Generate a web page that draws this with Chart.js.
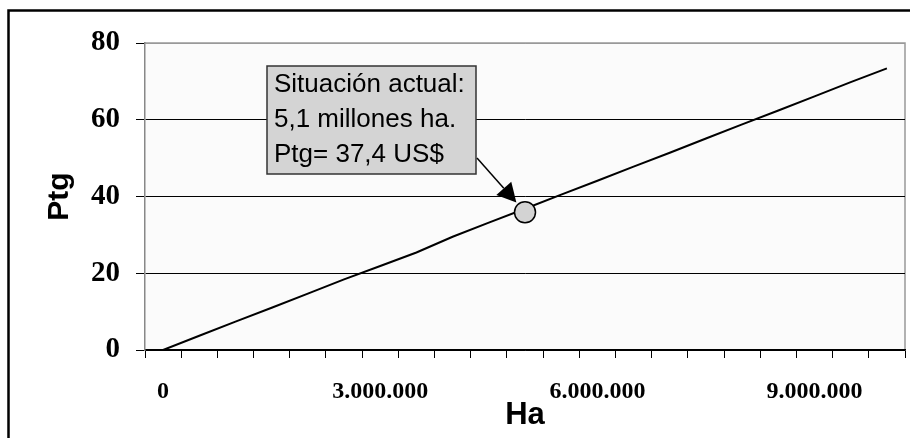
<!DOCTYPE html>
<html>
<head>
<meta charset="utf-8">
<script src="https://cdn.jsdelivr.net/npm/chart.js@4"></script>
<style>
    body { margin: 0; background: #fff; }
    canvas { display: block; }
</style>
</head>
<body>
<canvas id="ptgChart" width="910" height="438"></canvas>
<script>
// Ha (categories) and Ptg values
const haValues = [0, 500000, 1000000, 1500000, 2000000, 2500000, 3000000, 3500000, 4000000, 4500000,
    5000000, 5500000, 6000000, 6500000, 7000000, 7500000, 8000000, 8500000, 9000000, 9500000, 10000000];
const ptgValues = [0, 3.7, 7.4, 11.0, 14.7, 18.4, 21.9, 25.4, 29.5, 33.2,
    36.8, 40.5, 44.1, 47.8, 51.4, 55.1, 58.8, 62.4, 66.1, 69.8, 73.4];
const yTicks = [0, 20, 40, 60, 80];

// current situation marker
const currentHa = 5000000;
const currentPtg = 35.9;
const noteLines = ['Situación actual:', '5,1 millones ha.', 'Ptg= 37,4 US$'];

const currentSeries = haValues.map(v => (v === currentHa ? currentPtg : null));

function formatHa(v) {
    return String(v).replace(/\B(?=(\d{3})+(?!\d))/g, '.');
}

const frameAndNote = {
    id: 'frameAndNote',
    beforeDraw(chart) {
        const { ctx, chartArea: a } = chart;
        ctx.save();
        ctx.fillStyle = '#fbfbfb';
        ctx.fillRect(a.left, a.top, a.right - a.left, a.bottom - a.top);
        ctx.strokeStyle = '#999';
        ctx.lineWidth = 1.5;
        ctx.beginPath();
        ctx.moveTo(a.left, a.top);
        ctx.lineTo(a.right, a.top);
        ctx.lineTo(a.right, a.bottom);
        ctx.stroke();
        // outer frame
        ctx.strokeStyle = '#000';
        ctx.lineWidth = 2.5;
        ctx.strokeRect(8.5, 10.5, 920, 440);
        ctx.restore();
    },
    afterDatasetsDraw(chart) {
        const { ctx } = chart;
        const pt = chart.getDatasetMeta(0).data[haValues.indexOf(currentHa)];
        ctx.save();
        // note box
        const bx = 267, by = 66, bw = 209, bh = 108;
        ctx.fillStyle = '#d4d4d4';
        ctx.fillRect(bx, by, bw, bh);
        ctx.strokeStyle = '#333';
        ctx.lineWidth = 1.5;
        ctx.strokeRect(bx, by, bw, bh);
        ctx.fillStyle = '#000';
        ctx.font = '26px "Liberation Sans", Arial, sans-serif';
        ctx.textBaseline = 'alphabetic';
        noteLines.forEach((t, i) => ctx.fillText(t, bx + 7, by + 26 + i * 35));

        // arrow from box corner to the point
        const sx = bx + bw + 1, sy = by + 92;
        const dx = pt.x - sx, dy = pt.y - sy;
        const len = Math.hypot(dx, dy);
        const ux = dx / len, uy = dy / len;
        const tx = pt.x - ux * 13, ty = pt.y - uy * 13;
        const head = 19, half = 10;
        ctx.strokeStyle = '#000';
        ctx.lineWidth = 1.5;
        ctx.beginPath();
        ctx.moveTo(sx, sy);
        ctx.lineTo(tx - ux * head, ty - uy * head);
        ctx.stroke();
        ctx.beginPath();
        ctx.moveTo(tx, ty);
        ctx.lineTo(tx - ux * head - uy * half, ty - uy * head + ux * half);
        ctx.lineTo(tx - ux * head + uy * half, ty - uy * head - ux * half);
        ctx.closePath();
        ctx.fill();
        ctx.restore();
    }
};

new Chart(document.getElementById('ptgChart'), {
    type: 'line',
    data: {
        labels: haValues,
        datasets: [{
            label: 'Situación actual',
            data: currentSeries,
            showLine: false,
            pointRadius: 10.5,
            pointBackgroundColor: '#d3d3d3',
            pointBorderColor: '#000',
            pointBorderWidth: 1.5,
            order: 0
        }, {
            label: 'Ptg',
            data: ptgValues,
            borderColor: '#000',
            borderWidth: 2,
            pointRadius: 0,
            tension: 0,
            order: 1
        }]
    },
    options: {
        responsive: false,
        animation: false,
        layout: { autoPadding: false, padding: { top: 43, right: 5, left: 0, bottom: 0 } },
        plugins: {
            legend: { display: false },
            tooltip: { enabled: false }
        },
        scales: {
            x: {
                type: 'category',
                offset: true,
                grid: {
                    offset: true,
                    drawOnChartArea: false,
                    tickLength: 8,
                    color: '#000',
                    lineWidth: 1
                },
                border: { color: '#000', width: 1.5 },
                ticks: {
                    autoSkip: false,
                    maxRotation: 0,
                    padding: 19,
                    color: '#000',
                    font: { family: '"Liberation Serif", "Times New Roman", serif', size: 24, weight: 'bold' },
                    callback: (val, i) => (i % 6 === 0 ? formatHa(haValues[i]) : '')
                },
                title: {
                    display: true,
                    text: 'Ha',
                    color: '#000',
                    font: { family: '"Liberation Sans", Arial, sans-serif', size: 31, weight: 'bold' },
                    padding: { top: 0, bottom: 4 }
                },
                afterFit(scale) { scale.height = 88; }
            },
            y: {
                min: 0,
                max: 80,
                afterBuildTicks(scale) { scale.ticks = yTicks.map(v => ({ value: v })); },
                grid: {
                    tickLength: 9,
                    tickColor: '#000',
                    color: ctx => (ctx.tick && ctx.tick.value === 80 ? '#999' : '#000'),
                    lineWidth: 1
                },
                border: { color: '#888', width: 1.5 },
                ticks: {
                    padding: 16,
                    color: '#000',
                    font: { family: '"Liberation Serif", "Times New Roman", serif', size: 29, weight: 'bold' }
                },
                title: {
                    display: true,
                    text: 'Ptg',
                    color: '#000',
                    font: { family: '"Liberation Sans", Arial, sans-serif', size: 30, weight: 'bold' },
                    padding: { top: 42, bottom: 0 }
                },
                afterFit(scale) { scale.width = 145; }
            }
        }
    },
    plugins: [frameAndNote]
});
</script>
</body>
</html>
